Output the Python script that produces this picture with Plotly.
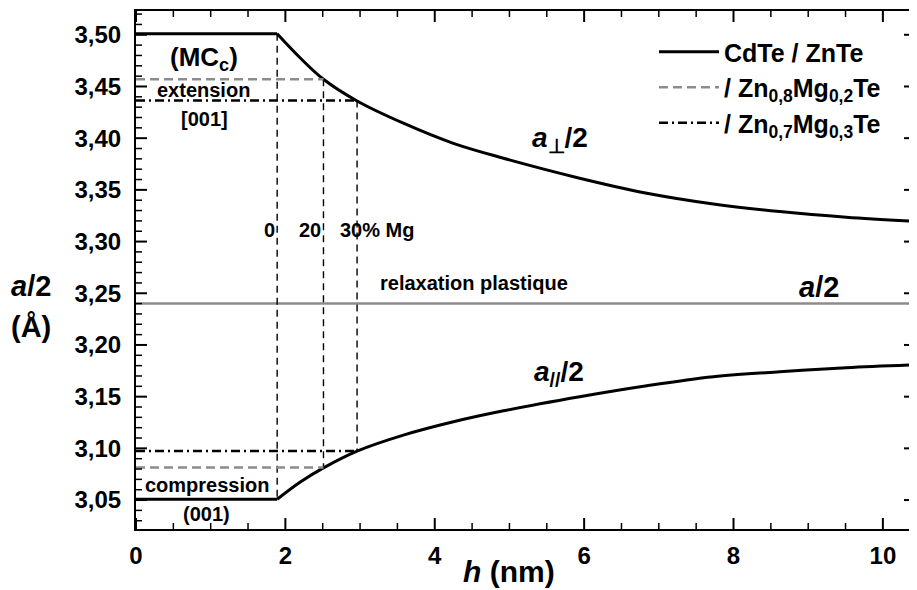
import plotly.graph_objects as go

# ---- data ----
h = [0, 1.89, 2.2, 2.51, 2.96, 3.58, 4.25, 4.92, 5.94, 6.84, 7.73, 8.62, 9.51, 10.43]
a_perp = [3.501, 3.501, 3.4775, 3.457, 3.436, 3.4145, 3.395, 3.3806, 3.3613, 3.3468, 3.3364, 3.329, 3.3235, 3.3195]
a_par = [3.0508, 3.0508, 3.0675, 3.0811, 3.0973, 3.1128, 3.1257, 3.1363, 3.1499, 3.1605, 3.1692, 3.1741, 3.178, 3.1808]
a_relax = 3.24
h_range = [0, 10.43]
a_range = [3.022, 3.523]

mg_labels = ["0", "20", "30% Mg"]
h_c = [1.89, 2.51, 2.96]          # critical thickness for 0, 20, 30 % Mg
a_perp_c = [3.501, 3.457, 3.4365]
a_par_c = [3.0508, 3.0815, 3.0975]

x_major = [0, 2, 4, 6, 8, 10]
y_major = [3.05, 3.10, 3.15, 3.20, 3.25, 3.30, 3.35, 3.40, 3.45, 3.50]
x_minor = [k * 0.5 for k in range(0, 21) if k % 4 != 0]
y_minor = [round(3.03 + k * 0.01, 2) for k in range(0, 50) if (k + 3) % 5 != 0]

FONT = "Liberation Sans, Arial, Helvetica, sans-serif"
TICK_COLOR = "black"
fig = go.Figure()

# relaxed lattice parameter
fig.add_trace(go.Scatter(x=h_range, y=[a_relax, a_relax], mode="lines",
                         line=dict(color="#8c8c8c", width=2.5), showlegend=False, hoverinfo="skip"))

# vertical thin dashed lines at critical thicknesses
vx, vy = [], []
for hc, ap, al in zip(h_c, a_perp_c, a_par_c):
    vx += [hc, hc, None]
    vy += [ap, al, None]
fig.add_trace(go.Scatter(x=vx, y=vy, mode="lines", line=dict(color="black", width=1.4, dash="7px,5px"),
                         showlegend=False, hoverinfo="skip"))

# CdTe / ZnTe curves: flat strained part + relaxing part
fig.add_trace(go.Scatter(x=h[:2], y=a_perp[:2], mode="lines", line=dict(color="black", width=3),
                         name="CdTe / ZnTe", legendgroup="cd", showlegend=True))
fig.add_trace(go.Scatter(x=h[1:], y=a_perp[1:], mode="lines", line=dict(color="black", width=3, shape="spline", smoothing=1),
                         legendgroup="cd", showlegend=False))
fig.add_trace(go.Scatter(x=h[:2], y=a_par[:2], mode="lines", line=dict(color="black", width=3),
                         legendgroup="cd", showlegend=False))
fig.add_trace(go.Scatter(x=h[1:], y=a_par[1:], mode="lines", line=dict(color="black", width=3, shape="spline", smoothing=1),
                         legendgroup="cd", showlegend=False))

# Zn0.8Mg0.2Te (gray dashed)
fig.add_trace(go.Scatter(x=[0, h_c[1], None, 0, h_c[1]],
                         y=[a_perp_c[1], a_perp_c[1], None, a_par_c[1], a_par_c[1]],
                         mode="lines", line=dict(color="#8c8c8c", width=2.5, dash="9px,5px"),
                         name="/ Zn<sub>0,8</sub>Mg<sub>0,2</sub>Te"))
# Zn0.7Mg0.3Te (dash-dot)
fig.add_trace(go.Scatter(x=[0, h_c[2], None, 0, h_c[2]],
                         y=[a_perp_c[2], a_perp_c[2], None, a_par_c[2], a_par_c[2]],
                         mode="lines", line=dict(color="black", width=2.5, dash="9px,4px,2px,4px"),
                         name="/ Zn<sub>0,7</sub>Mg<sub>0,3</sub>Te"))

# figure is drawn 8 px from the page corner (body margin); plot area in page px: x 136..915, y 11..529
W, H = 909, 582
ML, MR, MT, MB = 128, 2, 3, 61
pw, ph = W - ML - MR, H - MT - MB

ann = []
def A(text, x, y, size, xanchor="center", yanchor="middle", xref="x", yref="y"):
    ann.append(dict(text=text, x=x, y=y, xref=xref, yref=yref, showarrow=False,
                    xanchor=xanchor, yanchor=yanchor,
                    font=dict(family=FONT, size=size, color="black", weight="bold")))

A("(MC<sub>c</sub>)", 0.91, 3.477, 26)
A("extension", 0.91, 3.4468, 20)
A("[001]", 0.92, 3.4184, 20)
A("compression", 0.946, 3.0644, 20)
A("(001)", 0.946, 3.0369, 20)
A(mg_labels[0], h_c[0], 3.3112, 20, xanchor="right")
A(mg_labels[1], h_c[1], 3.3112, 20, xanchor="right")
A(mg_labels[2], 2.70, 3.3112, 20, xanchor="left")
A("relaxation plastique", 4.525, 3.2599, 20)
A("<i>a</i><sub>⊥</sub>/2", 5.27, 3.399, 28, xanchor="left")
A("<i>a</i>/2", 9.14, 3.256, 29)
A("<i>a</i><sub>//</sub>/2", 5.30, 3.172, 28, xanchor="left")
A("<i>a</i>/2", (31 - 136) / pw, (529 - 286) / ph, 29, xref="paper", yref="paper")
A("(Å)", (31 - 136) / pw, (529 - 327) / ph, 29, xref="paper", yref="paper")
A("<i>h</i> (nm)", 5.0, (529 - 571) / ph, 30, yref="paper")

# inside tick marks on all four sides
shapes = []
def tick_x(v, L, w):
    for y0, s in ((0, 1), (1, -1)):
        shapes.append(dict(type="line", xref="x", yref="paper", x0=v, x1=v, y0=y0, y1=y0 + s * L / ph,
                           line=dict(color=TICK_COLOR, width=w)))
def tick_y(v, L, w):
    for x0, s in ((0, 1), (1, -1)):
        shapes.append(dict(type="line", xref="paper", yref="y", x0=x0, x1=x0 + s * L / pw, y0=v, y1=v,
                           line=dict(color=TICK_COLOR, width=w)))
for v in x_major:
    tick_x(v, 11, 2)
for v in x_minor:
    tick_x(v, 6, 1.5)
for v in y_major:
    tick_y(v, 11, 2)
for v in y_minor:
    tick_y(v, 6, 1.5)

axis_common = dict(ticks="", showline=True, linewidth=2, linecolor="black", mirror=True,
                   showgrid=False, zeroline=False, automargin=False,
                   tickfont=dict(family=FONT, size=24, color="black", weight="bold"))

fig.update_xaxes(range=h_range, tickmode="array", tickvals=x_major, ticktext=[str(v) for v in x_major],
                 ticklabelstandoff=4, **axis_common)
fig.update_yaxes(range=a_range, tickmode="array", tickvals=y_major,
                 ticktext=[f"{v:.2f}".replace(".", ",") for v in y_major],
                 ticklabelstandoff=8, **axis_common)

fig.update_layout(
    width=W, height=H, margin=dict(l=ML, r=MR, t=MT, b=MB, autoexpand=False),
    plot_bgcolor="white", paper_bgcolor="white", separators=", ",
    font=dict(family=FONT, size=24, color="black", weight="bold"),
    annotations=ann, shapes=shapes,
    legend=dict(x=(659 - 136 - 5) / pw, y=(529 - 29) / ph, xanchor="left", yanchor="top",
                bgcolor="rgba(0,0,0,0)",
                font=dict(family=FONT, size=25, color="black", weight="bold"),
                itemwidth=60, tracegroupgap=0),
)

fig.write_html("out.html")
